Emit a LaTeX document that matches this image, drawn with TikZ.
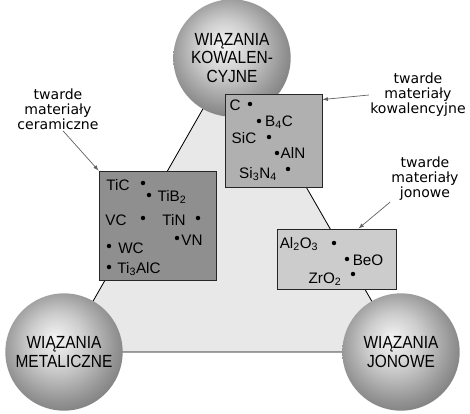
\documentclass[tikz,border=0pt]{standalone}
\usepackage{fontspec}
\setmainfont{Liberation Sans}
\newfontfamily\capsfont[FakeStretch=0.88]{Liberation Sans}
\newfontfamily\notefont{DejaVu Sans}
\usetikzlibrary{fit}
\definecolor{trifill}{gray}{0.91}
\definecolor{cerfill}{gray}{0.56}
\definecolor{kowfill}{gray}{0.69}
\definecolor{jonfill}{gray}{0.80}
\definecolor{arrgray}{gray}{0.38}
\pgfdeclareradialshading{kula}{\pgfqpoint{-4bp}{6bp}}{%
  color(0bp)=(black!4); color(12bp)=(black!20); color(24bp)=(black!42);
  color(32bp)=(black!55); color(50bp)=(black!62)}
\tikzset{
    sphere/.style={circle, minimum size=3.52cm, inner sep=0pt, shading=kula,
        align=center, font=\capsfont\fontsize{15}{15.5}\selectfont},
    box/.style={draw=black!85, line width=0.8pt, inner sep=0pt},
    item/.style={anchor=base, inner sep=0pt, font=\fontsize{13}{13}\selectfont},
    dot/.style={circle, fill=black, inner sep=0pt, minimum size=3.8pt},
    note/.style={align=center, inner sep=1pt, font=\notefont\fontsize{12}{12.75}\selectfont},
    arr/.style={draw=arrgray, semithick, -latex},
}

\begin{document}
\begin{tikzpicture}[x=0.03cm, y=-0.03cm]
	\useasboundingbox (0,0) rectangle (470,413);
	\coordinate (ckow) at (232,58);
	\coordinate (cmet) at (64,352);
	\coordinate (cjon) at (401,352);
	\draw[fill=trifill, line width=0.7pt] (cmet) -- (ckow) -- (cjon) -- cycle;
	% kule
	\node[sphere] (kow) at (ckow) {WIĄZANIA\\KOWALEN-\\CYJNE};
	\node[sphere] (met) at (cmet) {WIĄZANIA\\METALICZNE};
	\node[sphere] (jon) at (cjon) {WIĄZANIA\\JONOWE};
	% prostokaty
	\node[box, fill=kowfill, fit={(225,94) (322,187)}] (kbox) {};
	\node[box, fill=cerfill, fit={(99,171) (216,280)}] (cbox) {};
	\node[box, fill=jonfill, fit={(277,229) (396,289)}] (jbox) {};
	\foreach \n/\x/\y/\t in {c/235/110/C, b4c/279/126/B\textsubscript{4}C, sic/244/143/SiC,
		aln/293/158/AlN, si3n4/258/178/Si\textsubscript{3}N\textsubscript{4},
		tic/118/190/TiC, tib2/172/201/TiB\textsubscript{2}, vc/116/225/VC, tin/174/225/TiN,
		vn/192/245/VN, wc/131/253/WC, ti3alc/139/273/Ti\textsubscript{3}AlC,
		al2o3/299/248/Al\textsubscript{2}O\textsubscript{3}, beo/368/265/BeO, zro2/325/283/ZrO\textsubscript{2}}{
		\node[item] (\n) at (\x,\y) {\t};
	}
	\foreach \n/\x/\y in {c/250/104, b4c/259/121, sic/269/137, aln/277/153, si3n4/288/169,
		tic/143/183, tib2/149/195, vc/143/218, tin/198/218, vn/177/238, wc/109/246, ti3alc/109/267,
		al2o3/334/243, beo/347/259, zro2/353/274}{
		\node[dot] (d\n) at (\x,\y) {};
	}
	% opisy
	\node[note] (ncer) at (58,109) {twarde\\materiały\\ceramiczne};
	\node[note] (nkow) at (418,95) {twarde\\materiały\\kowalencyjne};
	\node[note] (njon) at (425,179) {twarde\\materiały\\jonowe};
	\draw[arr] ([xshift=0.15cm]ncer.south) -- (cbox.north west);
	\draw[arr] (nkow.west) -- ([yshift=-0.18cm]kbox.north east);
	\draw[arr] (njon.south west) -- ([xshift=0.66cm]jbox.north);
\end{tikzpicture}
\end{document}
